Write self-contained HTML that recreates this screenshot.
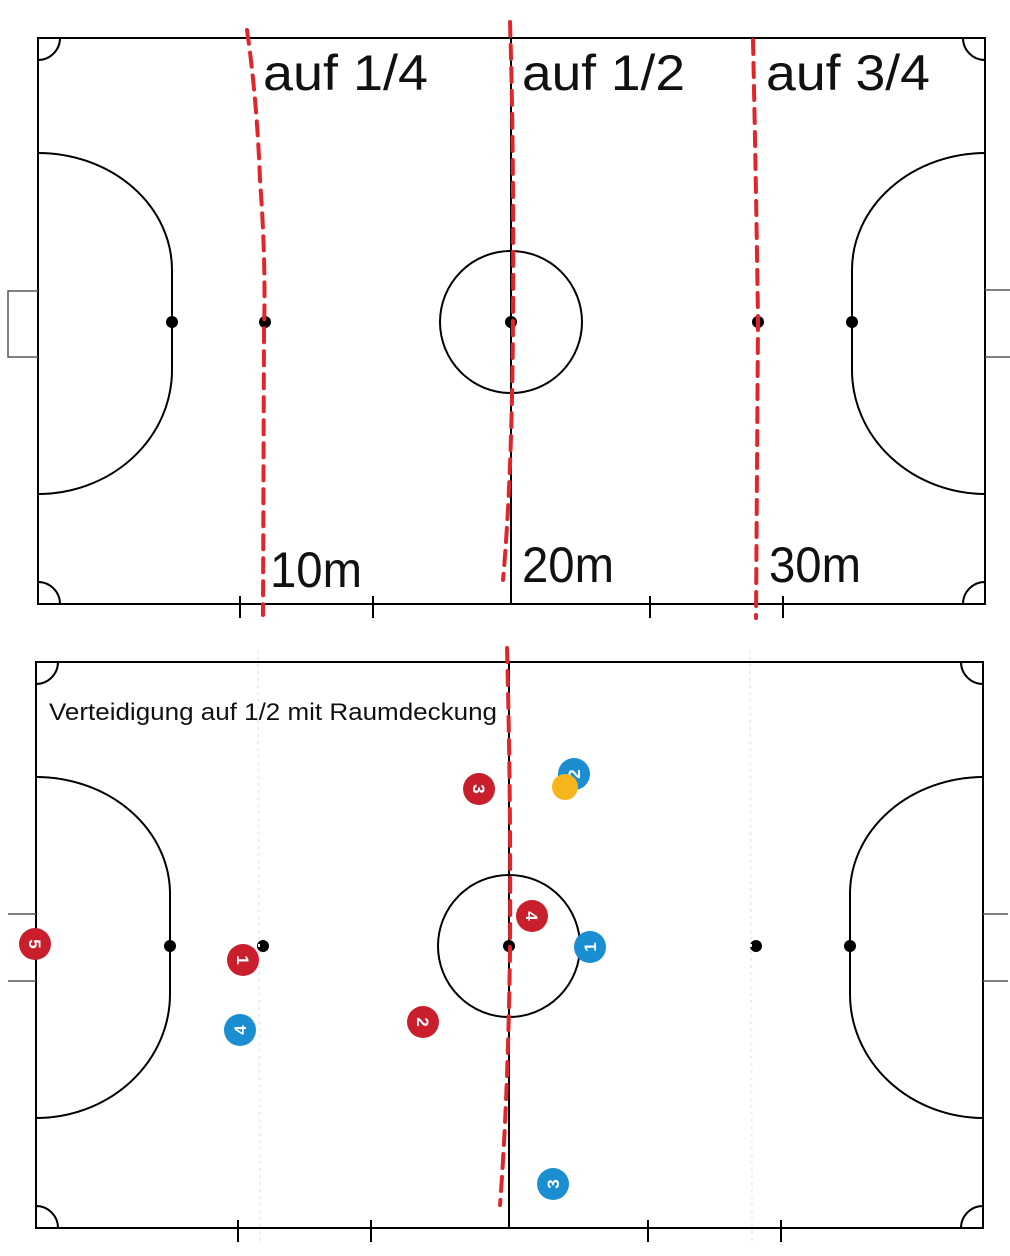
<!DOCTYPE html>
<html><head><meta charset="utf-8"><style>
html,body{margin:0;padding:0;background:#fff;}
svg{display:block;}
text{font-family:"Liberation Sans","DejaVu Sans",sans-serif;}
</style></head><body>
<svg width="1010" height="1256" viewBox="0 0 1010 1256" xmlns="http://www.w3.org/2000/svg">
<defs>
<g id="field" fill="none" stroke="#000" stroke-width="2">
<rect x="38" y="38" width="947" height="566"/>
<line x1="511" y1="38" x2="511" y2="604"/>
<circle cx="511" cy="322" r="71"/>
<path d="M38,153 A134,117 0 0 1 172,270 L172,370 A134,124 0 0 1 38,494"/>
<path d="M985,153 A134,117 0 0 0 852,270 L852,370 A134,124 0 0 0 985,494"/>
<path d="M38,60 A22,22 0 0 0 60,38"/>
<path d="M963,38 A22,22 0 0 0 985,60"/>
<path d="M38,582 A22,22 0 0 1 60,604"/>
<path d="M963,604 A22,22 0 0 1 985,582"/>
<g stroke-width="1.5" stroke="#555"><path d="M985,290 H1010 M985,357 H1010"/></g>
<path d="M240,596 V618 M373,596 V618 M650,596 V618 M783,596 V618"/>
<g fill="#000" stroke="none"><circle cx="172" cy="322" r="6"/><circle cx="265" cy="322" r="6"/><circle cx="511" cy="322" r="6"/><circle cx="758" cy="322" r="6"/><circle cx="852" cy="322" r="6"/></g>
</g>
</defs>
<use href="#field"/>
<path d="M38,291 H8 V357 H38" fill="none" stroke="#555" stroke-width="1.5"/>
<use href="#field" transform="translate(-2,624)"/>
<path d="M36,914 H8 M36,981 H8" fill="none" stroke="#555" stroke-width="1.5"/>
<g fill="none" stroke="#e0262b" stroke-width="4" stroke-dasharray="14,9" stroke-linecap="round">
<path d="M247,30 Q257,100 260,180 Q266,260 264,330 L263,615"/>
<path d="M510,22 Q514,150 513,320 Q512,480 503,580"/>
<path d="M753,40 Q756,180 758,320 L756,618"/>
<path d="M507,648 Q511,800 510,950 Q508,1100 500,1205"/>
</g>
<g stroke="#eee" stroke-width="2" stroke-dasharray="3,4"><line x1="258" y1="650" x2="260" y2="1245"/><line x1="750" y1="650" x2="752" y2="1245"/></g>
<g font-size="50" fill="#111">
<text x="263" y="90" textLength="165" lengthAdjust="spacingAndGlyphs">auf 1/4</text>
<text x="522" y="90" textLength="163" lengthAdjust="spacingAndGlyphs">auf 1/2</text>
<text x="766" y="90" textLength="164" lengthAdjust="spacingAndGlyphs">auf 3/4</text>
<text x="270" y="587" textLength="92" lengthAdjust="spacingAndGlyphs">10m</text>
<text x="522" y="582" textLength="92" lengthAdjust="spacingAndGlyphs">20m</text>
<text x="769" y="582" textLength="92" lengthAdjust="spacingAndGlyphs">30m</text>
</g>
<text x="49" y="720" font-size="24" fill="#111" textLength="448" lengthAdjust="spacingAndGlyphs">Verteidigung auf 1/2 mit Raumdeckung</text>
<g font-size="17" font-weight="bold" fill="#fff" text-anchor="middle">
<g transform="translate(479,789) rotate(90)"><circle r="16" fill="#c91f2c"/><text y="6">3</text></g>
<g transform="translate(574,774) rotate(-90)"><circle r="16" fill="#1a8ed0"/><text y="6">2</text></g>
<circle cx="565" cy="787" r="13" fill="#f6b51c"/>
<g transform="translate(532,916) rotate(90)"><circle r="16" fill="#c91f2c"/><text y="6">4</text></g>
<g transform="translate(590,947) rotate(-90)"><circle r="16" fill="#1a8ed0"/><text y="6">1</text></g>
<g transform="translate(35,944) rotate(90)"><circle r="16" fill="#c91f2c"/><text y="6">5</text></g>
<g transform="translate(243,960) rotate(90)"><circle r="16" fill="#c91f2c"/><text y="6">1</text></g>
<g transform="translate(240,1030) rotate(-90)"><circle r="16" fill="#1a8ed0"/><text y="6">4</text></g>
<g transform="translate(423,1022) rotate(90)"><circle r="16" fill="#c91f2c"/><text y="6">2</text></g>
<g transform="translate(553,1184) rotate(-90)"><circle r="16" fill="#1a8ed0"/><text y="6">3</text></g>
</g>
</svg>
</body></html>
